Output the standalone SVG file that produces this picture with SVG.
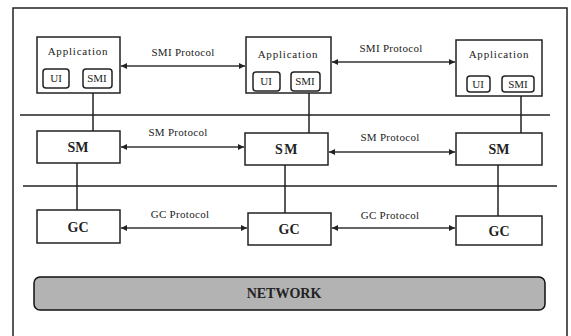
<svg xmlns="http://www.w3.org/2000/svg" width="571" height="336" viewBox="0 0 571 336">
<style>
.box{fill:#fff;stroke:#222;stroke-width:1.5}
.sub{fill:#fff;stroke:#222;stroke-width:1.5}
.ln{stroke:#222;stroke-width:1.5;fill:none}
.sep{stroke:#222;stroke-width:1.4}
.t{font-family:"Liberation Serif","Times New Roman",serif;font-size:11px;fill:#222;text-anchor:middle}
.b{font-family:"Liberation Serif","Times New Roman",serif;font-size:14px;font-weight:bold;fill:#222;text-anchor:middle}
.arr{stroke:#333;stroke-width:1.5;fill:none;marker-start:url(#ah);marker-end:url(#ah)}
</style>
<defs>
<marker id="ah" viewBox="0 0 10 10" refX="10" refY="5" markerWidth="7" markerHeight="6" orient="auto-start-reverse" markerUnits="userSpaceOnUse"><path d="M0,0 L10,5 L0,10 z" fill="#222"/></marker>
</defs>
<rect x="0" y="0" width="571" height="336" fill="#fff"/>
<path d="M13,340 V8 H567 V340" class="ln" stroke-width="1.3"/>
<line x1="20" y1="115" x2="550" y2="115" class="sep"/>
<line x1="23" y1="186" x2="557" y2="186" class="sep"/>
<g id="connectors">
<line x1="93" y1="88" x2="93" y2="131" class="ln"/>
<line x1="309" y1="91" x2="309" y2="133" class="ln"/>
<line x1="521" y1="92" x2="521" y2="133" class="ln"/>
<line x1="77" y1="163" x2="77" y2="210" class="ln"/>
<line x1="285" y1="165" x2="285" y2="213" class="ln"/>
<line x1="498" y1="165" x2="498" y2="216" class="ln"/>
<line x1="121" y1="66" x2="245" y2="66" class="arr"/>
<text x="183" y="56" class="t" letter-spacing="0.3">SMI Protocol</text>
<line x1="332" y1="62" x2="455" y2="62" class="arr"/>
<text x="391" y="52" class="t" letter-spacing="0.3">SMI Protocol</text>
<line x1="121" y1="147" x2="244" y2="147" class="arr"/>
<text x="178" y="136" class="t" letter-spacing="0.3">SM Protocol</text>
<line x1="329" y1="152" x2="455" y2="152" class="arr"/>
<text x="390" y="141" class="t" letter-spacing="0.3">SM Protocol</text>
<line x1="121" y1="228" x2="247" y2="228" class="arr"/>
<text x="180" y="218" class="t" letter-spacing="0.3">GC Protocol</text>
<line x1="332" y1="228" x2="455" y2="228" class="arr"/>
<text x="390" y="219" class="t" letter-spacing="0.3">GC Protocol</text>
</g>
<g id="app1">
<rect x="37" y="37" width="83" height="56" class="box"/>
<text x="78" y="55" class="t" letter-spacing="0.8">Application</text>
<rect x="43" y="69" width="26" height="19" rx="3" class="sub"/>
<text x="56" y="82" class="t">UI</text>
<rect x="83" y="69" width="29" height="19" rx="3" class="sub"/>
<text x="97" y="82" class="t">SMI</text>
</g>
<g id="app2">
<rect x="246" y="37" width="85" height="56" class="box"/>
<text x="288" y="58" class="t" letter-spacing="0.8">Application</text>
<rect x="253" y="72" width="27" height="19" rx="3" class="sub"/>
<text x="266" y="85" class="t">UI</text>
<rect x="291" y="72" width="29" height="19" rx="3" class="sub"/>
<text x="305" y="85" class="t">SMI</text>
</g>
<g id="app3">
<rect x="456" y="40" width="86" height="56" class="box"/>
<text x="499" y="58" class="t" letter-spacing="0.8">Application</text>
<rect x="467" y="76" width="23" height="16" rx="3" class="sub"/>
<text x="478" y="88" class="t">UI</text>
<rect x="502" y="76" width="32" height="16" rx="3" class="sub"/>
<text x="518" y="88" class="t">SMI</text>
</g>
<g id="sm1"><rect x="37" y="131" width="83" height="32" class="box"/><text x="78" y="152" class="b">SM</text></g>
<g id="sm2"><rect x="245" y="133" width="83" height="32" class="box"/><text x="287" y="154" class="b" letter-spacing="1.5">SM</text></g>
<g id="sm3"><rect x="456" y="133" width="86" height="32" class="box"/><text x="499" y="154" class="b">SM</text></g>
<g id="gc1"><rect x="37" y="210" width="83" height="33" class="box"/><text x="78" y="232" class="b">GC</text></g>
<g id="gc2"><rect x="248" y="213" width="83" height="32" class="box"/><text x="289" y="234" class="b">GC</text></g>
<g id="gc3"><rect x="456" y="216" width="86" height="29" class="box"/><text x="499" y="236" class="b">GC</text></g>
<g id="network"><rect x="34" y="277" width="511" height="33" rx="6" fill="#b3b3b3" stroke="#111" stroke-width="1.5"/><text x="284" y="298" class="b" font-size="12.5">NETWORK</text></g>
</svg>
